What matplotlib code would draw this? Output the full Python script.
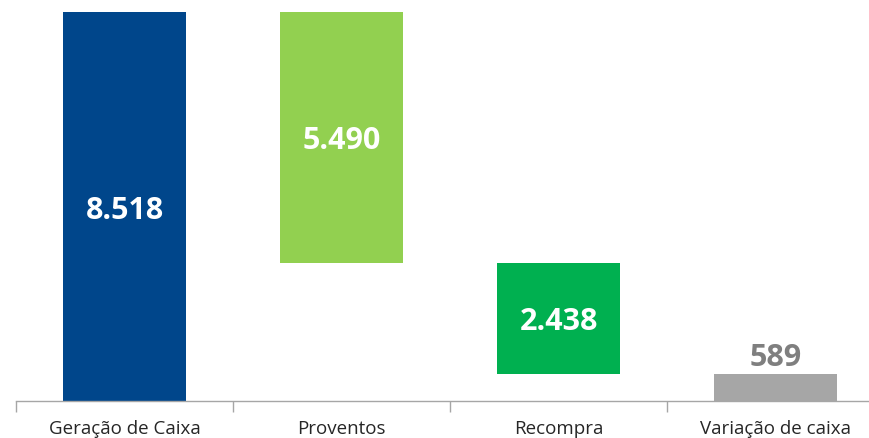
import numpy as np
import matplotlib.pyplot as plt
import matplotlib as mpl

mpl.rcParams['font.family'] = ['Open Sans', 'DejaVu Sans']

# Waterfall data (R$ milhões)
categories = ['Geração de Caixa', 'Proventos', 'Recompra', 'Variação de caixa']
values = [8518, -5490, -2438, 589]
labels = ['8.518', '5.490', '2.438', '589']
colors = ['#00468B', '#92D050', '#00B050', '#A6A6A6']

# bottoms / heights of the floating bars
heights = [abs(v) for v in values]
bottoms = [0, values[0] + values[1], values[0] + values[1] + values[2], 0]

fig = plt.figure(figsize=(8.69, 4.38), dpi=100)
# axis spans wider than the picture (right end is cropped, as in the source)
ax = fig.add_axes([16 / 869, 37 / 438, 868 / 869, 401 / 438])

x = np.arange(len(categories))
ax.bar(x, heights, bottom=bottoms, width=0.571, color=colors, edgecolor='none')

ax.set_xlim(-0.5, len(categories) - 0.5)
ax.set_ylim(0, 8780)

for i, (h, b, lab) in enumerate(zip(heights, bottoms, labels)):
    if i == 3:
        ax.text(i, b + h + 20, lab, ha='center', va='bottom', color='#7F7F7F',
                fontsize=22, fontweight='bold')
    else:
        ax.text(i, b + h / 2 - 90, lab, ha='center', va='center', color='white',
                fontsize=22, fontweight='bold')

for s in ['top', 'right', 'left']:
    ax.spines[s].set_visible(False)
ax.spines['bottom'].set_color('#A6A6A6')
ax.spines['bottom'].set_linewidth(1)
ax.set_yticks([])
ax.set_xticks(np.arange(len(categories) + 1) - 0.5, minor=False)
ax.set_xticklabels([])
ax.tick_params(axis='x', length=8, color='#A6A6A6', width=1)
for i, c in enumerate(categories):
    ax.text(i, -0.07, c, transform=ax.get_xaxis_transform(), ha='center', va='center',
            fontsize=13.5, color='#262626')

fig.savefig('out.png', dpi=100)
